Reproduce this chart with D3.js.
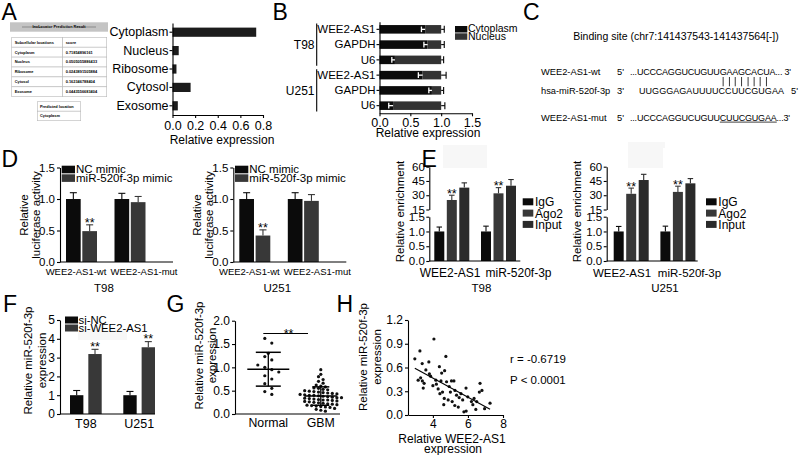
<!DOCTYPE html>
<html><head><meta charset="utf-8">
<script src="https://cdn.jsdelivr.net/npm/d3@7/dist/d3.min.js"></script>
<style>
body{margin:0;background:#fff}
svg{display:block}
text{font-family:"Liberation Sans",Arial,Helvetica,sans-serif;fill:#000}
</style></head>
<body><svg id="chart" width="800" height="455"></svg>
<script>
// ================= DATA =================
// A
const aTableHeader = "lncLocator Prediction Result";
const aTableRows = [["Subcellular locations","score"],["Cytoplasm","0.71854896161"],["Nucleus","0.0505055886433"],["Ribosome","0.0243891505884"],["Cytosol","0.162346788404"],["Exosome","0.0443556683404"]];
const aPredicted = ["Predicted location","Cytoplasm"];
const aCategories = ["Cytoplasm","Nucleus","Ribosome","Cytosol","Exosome"];
const aValues = [0.74, 0.055, 0.035, 0.16, 0.047];
const aTicks = [0, 0.2, 0.4, 0.6, 0.8];
// B
const bCells = ["T98","U251"];
const bGenes = ["WEE2-AS1","GAPDH","U6"];
const bSeries = ["Cytoplasm","Nucleus"];
const bCytoplasm = [0.74, 0.78, 0.25, 0.70, 0.85, 0.22];
const bCytoErr   = [0.06, 0.06, 0.05, 0.07, 0.05, 0.07];
const bTotal     = [1.00, 1.00, 1.00, 1.00, 1.00, 1.00];
const bTotalErr  = [0.05, 0.05, 0.04, 0.08, 0.04, 0.06];
const bTicks = [0, 0.5, 1.0, 1.5];
// C
const cTitle = "Binding site (chr7:141437543-141437564[-])";
const cLabels = ["WEE2-AS1-wt","hsa-miR-520f-3p","WEE2-AS1-mut"];
const cEnds5 = ["5'","3'","5'"];
const cSeqs = ["...UCCCAGGUCUGUUGAAGCACUA... 3'","UUGGGAGAUUUUCCUUCGUGAA","...UCCCAGGUCUGUUCUUCGUGAA...3'"];
const cMirEnd = "5'";
const cPairStart = 16, cPairLen = 8;
// D
const dGroups = ["WEE2-AS1-wt","WEE2-AS1-mut"];
const dSeries = ["NC mimic","miR-520f-3p mimic"];
const dT98NC = [1.00, 1.00], dT98NCErr = [0.10, 0.09];
const dT98Mimic = [0.49, 0.95], dT98MimicErr = [0.10, 0.09];
const dU251NC = [1.00, 1.00], dU251NCErr = [0.10, 0.10];
const dU251Mimic = [0.42, 0.97], dU251MimicErr = [0.09, 0.10];
const dSig = ["**",""];
const dTicks = [0, 0.5, 1.0, 1.5];
// E
const eGroups = ["WEE2-AS1","miR-520f-3p"];
const eSeries = ["IgG","Ago2","Input"];
const eT98IgG = [1.0, 1.0],  eT98IgGErr = [0.15, 0.18];
const eT98Ago2 = [25, 32],   eT98Ago2Err = [5, 6];
const eT98Input = [38, 40],  eT98InputErr = [5, 6.5];
const eU251IgG = [1.0, 1.0], eU251IgGErr = [0.17, 0.18];
const eU251Ago2 = [31.5, 33.5], eU251Ago2Err = [6, 6];
const eU251Input = [46, 42.5],  eU251InputErr = [6, 5];
const eTicksLow = [0, 0.5, 1.0, 1.5];
const eTicksHigh = [15, 30, 45, 60];
// F
const fGroups = ["T98","U251"];
const fSeries = ["si-NC","si-WEE2-AS1"];
const fNC = [1.0, 1.0],   fNCErr = [0.25, 0.20];
const fSi = [3.19, 3.55], fSiErr = [0.25, 0.30];
const fTicks = [0,1,2,3,4,5];
// G
const gGroups = ["Normal","GBM"];
const gNormal = [1.62,1.52,1.30,1.23,1.16,1.05,1.00,0.95,0.90,0.82,0.75,0.65,0.55,0.48,0.42];
const gGBM = [0.95,0.85,0.80,0.74,0.70,0.66,0.62,0.60,0.58,0.56,0.55,0.53,0.52,0.50,0.49,0.48,0.47,0.46,0.45,0.44,0.43,0.42,0.41,0.40,0.40,0.39,0.38,0.37,0.36,0.35,0.35,0.34,0.33,0.32,0.31,0.30,0.30,0.29,0.28,0.27,0.26,0.25,0.24,0.23,0.22,0.21,0.20,0.19,0.18,0.17,0.16,0.15,0.14,0.12,0.10,0.08,0.06];
const gTicks = [0, 0.5, 1.0, 1.5, 2.0];
// H
const hX = [2.97,3.26,3.39,3.16,3.40,3.45,3.50,3.77,3.60,3.80,3.87,4.06,4.17,4.20,4.30,4.37,4.46,4.40,4.55,4.50,4.65,4.67,4.74,4.78,4.87,4.93,5.00,5.06,5.10,5.20,5.26,5.35,5.45,5.50,5.60,5.70,5.77,5.89,5.99,6.20,6.35,6.45,6.69,6.65,6.80,6.50,6.28,6.95,7.26,4.62,5.25,4.00,3.30,5.90];
const hY = [0.71,0.81,0.65,0.44,0.43,0.34,0.40,0.67,0.57,0.52,0.49,0.96,0.44,0.39,0.33,0.61,0.43,0.27,0.29,0.53,0.21,0.56,0.74,0.42,0.19,0.36,0.29,0.43,0.17,0.43,0.31,0.25,0.10,0.22,0.27,0.19,0.04,0.34,0.23,0.17,0.21,0.07,0.40,0.29,0.31,0.17,0.13,0.08,0.15,0.13,0.12,0.37,0.47,0.05];
const hXTicks = [4, 6, 8];
const hYTicks = [0, 0.3, 0.6, 0.9, 1.2];
const hStats = ["r = -0.6719","P < 0.0001"];

// ================= HELPERS =================
const svg = d3.select("#chart");
const FONT = '"Liberation Sans", Arial, Helvetica, sans-serif';
const BLACK = "#0b0b0b", GRAY = "#383838", GRAY2 = "#2a2a2a";

function styleAxis(g, fs){
  g.attr("font-family", FONT).attr("font-size", fs);
  g.selectAll("path.domain").attr("stroke","#000").attr("stroke-width",1.1);
  g.selectAll(".tick line").attr("stroke","#000").attr("stroke-width",1.1);
  g.selectAll(".tick text").attr("fill","#000");
  return g;
}
function text(g, x, y, s, fs, anchor, weight){
  return g.append("text").attr("x",x).attr("y",y).attr("font-size",fs)
    .attr("text-anchor",anchor||"start").attr("font-weight",weight||"normal").text(s);
}
function vtext(g, x, y, s, fs){
  return g.append("text").attr("transform",`translate(${x},${y}) rotate(-90)`)
    .attr("font-size",fs).attr("text-anchor","middle").attr("dominant-baseline","central").text(s);
}
function line(g,x1,y1,x2,y2,color,w){
  return g.append("line").attr("x1",x1).attr("y1",y1).attr("x2",x2).attr("y2",y2)
    .attr("stroke",color||"#000").attr("stroke-width",w||1.1);
}
function vErr(g, x, yTop, yEnd, capW, color){
  line(g, x, yTop, x, yEnd, color);
  line(g, x-capW/2, yEnd, x+capW/2, yEnd, color);
}
function letter(x,y,s){ text(svg, x, y, s, 23); }

// faint background artifacts
[[443,145,44,23],[628,145,35,23],[78,330,49,10],[628,142,37,6]].forEach(r=>{
  svg.append("rect").attr("x",r[0]).attr("y",r[1]).attr("width",r[2]).attr("height",r[3]).attr("fill","#f7f7f7");
});

// ================= PANEL A =================
letter(1.5, 20, "A");
{
  const g = svg.append("g");
  g.append("rect").attr("x",10).attr("y",22.3).attr("width",98).attr("height",9.4).attr("fill","#c4c4c4");
  line(g, 22, 27, 42, 27, "#666", 0.6); line(g, 76, 27, 96, 27, "#666", 0.6);
  text(g, 59, 28.4, aTableHeader, 3.9, "middle", "bold").attr("fill","#333");
  const rowH = 9.9, tx = 11.7, ty = 37.3, colW = [51, 44];
  const cells = aTableRows.flatMap((r,i)=>r.map((c,j)=>({c,i,j})));
  g.selectAll("rect.cell").data(cells).join("rect").attr("class","cell")
    .attr("x",d=>tx + (d.j?colW[0]:0)).attr("y",d=>ty + d.i*rowH)
    .attr("width",d=>colW[d.j]).attr("height",rowH)
    .attr("fill","#fff").attr("stroke","#b8b8b8").attr("stroke-width",0.6);
  g.selectAll("text.cell").data(cells).join("text").attr("class","cell")
    .attr("x",d=>tx + (d.j?colW[0]:0) + 3).attr("y",d=>ty + d.i*rowH + 6.3)
    .attr("font-size",3.9).attr("font-weight","bold").attr("fill","#222").text(d=>d.c);
  g.selectAll("rect.pred").data(aPredicted).join("rect").attr("class","pred")
    .attr("x",37.3).attr("y",(d,i)=>101.7 + i*9.5).attr("width",43.4).attr("height",9.5)
    .attr("fill","#fff").attr("stroke","#b8b8b8").attr("stroke-width",0.6);
  g.selectAll("text.pred").data(aPredicted).join("text").attr("class","pred")
    .attr("x",40).attr("y",(d,i)=>101.7 + i*9.5 + 6.1)
    .attr("font-size",3.9).attr("font-weight","bold").attr("fill","#222").text(d=>d);

  const y = d3.scaleBand().domain(aCategories).range([23,115]).paddingInner(0.5).paddingOuter(0.25);
  const x = d3.scaleLinear().domain([0,0.8]).range([172.5,263]);
  g.selectAll("rect.bar").data(aCategories).join("rect").attr("class","bar")
    .attr("x",x(0)).attr("y",c=>y(c)).attr("height",y.bandwidth())
    .attr("width",(c,i)=>x(aValues[i])-x(0)).attr("fill","#1c1c1c");
  styleAxis(g.append("g").attr("transform",`translate(${x(0)},0)`)
    .call(d3.axisLeft(y).tickSize(3).tickSizeOuter(0).tickPadding(1)), 12.5);
  styleAxis(g.append("g").attr("transform",`translate(0,115)`)
    .call(d3.axisBottom(x).tickValues(aTicks).tickFormat(d3.format(".1f")).tickSize(3).tickSizeOuter(0).tickPadding(3.5)), 12.5);
  text(g, 222, 144, "Relative expression", 12, "middle");
}

// ================= PANEL B =================
letter(272.5, 20, "B");
{
  const g = svg.append("g");
  const rows = bCells.flatMap(c => bGenes.map(ge => c + "|" + ge));
  const y = d3.scaleBand().domain(rows).range([21.7,113.3]).paddingInner(0.44).paddingOuter(0.22);
  const x = d3.scaleLinear().domain([0,1.5]).range([379.5,472]);
  const bh = y.bandwidth();
  rows.forEach((r,i)=>{
    g.append("rect").attr("x",x(0)).attr("y",y(r)).attr("width",x(bCytoplasm[i])-x(0)).attr("height",bh).attr("fill",BLACK);
    g.append("rect").attr("x",x(bCytoplasm[i])).attr("y",y(r)).attr("width",x(bTotal[i])-x(bCytoplasm[i])).attr("height",bh).attr("fill","#333");
    const cy = y(r)+bh/2;
    line(g, x(bCytoplasm[i]), cy, x(bCytoplasm[i]-bCytoErr[i]), cy, "#fff", 1.3);
    line(g, x(bCytoplasm[i]-bCytoErr[i]), cy-2.8, x(bCytoplasm[i]-bCytoErr[i]), cy+2.8, "#fff", 1.3);
    line(g, x(bTotal[i]), cy, x(bTotal[i]+bTotalErr[i]), cy, "#000", 1.1);
    line(g, x(bTotal[i]+bTotalErr[i]), cy-3.5, x(bTotal[i]+bTotalErr[i]), cy+3.5, "#000", 1.1);
  });
  styleAxis(g.append("g").attr("transform",`translate(${x(0)},0)`)
    .call(d3.axisLeft(y).tickFormat(d=>d.split("|")[1]).tickSize(3).tickSizeOuter(0).tickPadding(1)), 11.5);
  styleAxis(g.append("g").attr("transform",`translate(0,113.3)`)
    .call(d3.axisBottom(x).tickValues(bTicks).tickFormat(d3.format(".1f")).tickSize(3).tickSizeOuter(0).tickPadding(1.5)), 12.5);
  text(g, 428, 137, "Relative expression", 12, "middle");
  bCells.forEach(c=>{
    const top = y(c+"|"+bGenes[0]) - 1.5, bot = y(c+"|"+bGenes[bGenes.length-1]) + bh + 1.5;
    line(g, 316.7, top, 316.7, bot, "#000", 1.1);
    text(g, 314.5, (top+bot)/2 + 4.3, c, 12, "end");
  });
  bSeries.forEach((s,i)=>{
    g.append("rect").attr("x",455).attr("y",26 + i*7.3).attr("width",12.3).attr("height",6.5).attr("fill", i?"#333":BLACK);
    text(g, 468, 32.3 + i*7.6, s, 10.5);
  });
}

// ================= PANEL C =================
letter(523, 20, "C");
{
  const g = svg.append("g");
  text(g, 676, 40, cTitle, 10.5, "middle");
  const baselines = [75, 94.3, 120.5];
  const seqX = [630, 639, 630];
  const seqLen = [161, 145, 160];
  cLabels.forEach((l,i)=>{
    text(g, 541, baselines[i], l, 9.3);
    text(g, 617, baselines[i], cEnds5[i], 9.3);
  });
  const seqNodes = cSeqs.map((s,i)=> text(g, seqX[i], baselines[i], s, 9)
    .attr("textLength", seqLen[i]).attr("lengthAdjust","spacing"));
  text(g, 791, baselines[1], cMirEnd, 9.3);
  const wt = seqNodes[0].node();
  for (let k=0;k<cPairLen;k++){
    const e = wt.getExtentOfChar(cPairStart+k);
    const cx = e.x + e.width/2;
    line(g, cx, 77, cx, 86.3, "#222", 0.9);
  }
  const mut = seqNodes[2].node();
  const e0 = mut.getExtentOfChar(cPairStart), e1 = mut.getExtentOfChar(cPairStart+cPairLen);
  line(g, e0.x, 122.2, e1.x + e1.width, 122.2, "#666", 1.2);
}

// ================= PANEL D =================
letter(1.5, 166.8, "D");
function dPanel(axisX, cell, nc, ncErr, mim, mimErr){
  const g = svg.append("g");
  const y = d3.scaleLinear().domain([0,1.5]).range([262,167.5]);
  const x0 = d3.scaleBand().domain(dGroups).range([axisX+6, axisX+103]);
  const x1 = d3.scaleBand().domain(dSeries).range([0,31]).paddingInner(0.1);
  const lab = d3.scalePoint().domain(dGroups).range([axisX+16, axisX+84]);
  const colors = [BLACK, GRAY];
  const data = dGroups.flatMap((gr,i)=>[
    {gr, s:dSeries[0], v:nc[i], e:ncErr[i], sig:""},
    {gr, s:dSeries[1], v:mim[i], e:mimErr[i], sig:dSig[i]}]);
  g.selectAll("rect.bar").data(data).join("rect")
    .attr("x",d=>x0(d.gr)+x1(d.s)).attr("y",d=>y(d.v)).attr("width",x1.bandwidth())
    .attr("height",d=>y(0)-y(d.v)).attr("fill",d=>colors[dSeries.indexOf(d.s)]);
  data.forEach(d=>{
    const cx = x0(d.gr)+x1(d.s)+x1.bandwidth()/2;
    vErr(g, cx, y(d.v), y(d.v+d.e), 7, colors[dSeries.indexOf(d.s)]);
    if (d.sig) text(g, cx, y(d.v+d.e)+2, d.sig, 12.5, "middle");
  });
  styleAxis(g.append("g").attr("transform",`translate(${axisX},0)`)
    .call(d3.axisLeft(y).tickValues(dTicks).tickFormat(d3.format(".1f")).tickSize(3).tickSizeOuter(0).tickPadding(2)), 11.5);
  line(g, axisX, y(0), axisX+113, y(0), "#000", 1.1);
  dGroups.forEach(gr=> text(g, lab(gr), 275, gr, 9.5, "middle"));
  text(g, axisX+44, 291.5, cell, 11.5, "middle");
  vtext(g, axisX-36, 215, "Relative", 11.5);
  vtext(g, axisX-24.5, 215, "luciferase activity", 11.5);
  dSeries.forEach((s,i)=>{
    g.append("rect").attr("x",axisX+1.7).attr("y",165.7+i*8.6).attr("width",13.3).attr("height",7.6).attr("fill",colors[i]);
    text(g, axisX+16, 173.3+i*8.4, s, 11.5);
  });
}
dPanel(60, "T98", dT98NC, dT98NCErr, dT98Mimic, dT98MimicErr);
dPanel(233.3, "U251", dU251NC, dU251NCErr, dU251Mimic, dU251MimicErr);

// ================= PANEL E =================
letter(421.5, 166.8, "E");
function ePanel(axisX, off, legX, labRange, labFs, cellX, cell, vals, errs){
  const g = svg.append("g");
  const y = d3.scaleLinear().domain([0,1.5,15,60]).range([261,216.7,209.5,166.7]);
  const yLow = d3.scaleLinear().domain([0,1.5]).range([261,216.7]);
  const yHigh = d3.scaleLinear().domain([15,60]).range([209.5,166.7]);
  const x0 = d3.scaleBand().domain(eGroups).range([axisX+off, axisX+off+93.4]);
  const x1 = d3.scaleBand().domain(eSeries).range([0,35]).paddingInner(0.2);
  const lab = d3.scalePoint().domain(eGroups).range(labRange);
  const colors = [BLACK, GRAY, GRAY2];
  const data = eGroups.flatMap((gr,i)=> eSeries.map((s,j)=>({gr, s, j, v:vals[j][i], e:errs[j][i]})));
  g.selectAll("rect.bar").data(data).join("rect")
    .attr("x",d=>x0(d.gr)+x1(d.s)).attr("y",d=>y(d.v)).attr("width",x1.bandwidth())
    .attr("height",d=>y(0)-y(d.v)).attr("fill",d=>colors[d.j]);
  data.forEach(d=>{
    const cx = x0(d.gr)+x1(d.s)+x1.bandwidth()/2;
    vErr(g, cx, y(d.v), y(d.v+d.e), 5.5, colors[d.j]);
    if (d.s === "Ago2") text(g, cx, y(d.v+d.e)+2.5, "**", 12.5, "middle");
  });
  styleAxis(g.append("g").attr("transform",`translate(${axisX},0)`)
    .call(d3.axisLeft(yLow).tickValues(eTicksLow).tickFormat(d3.format(".1f")).tickSize(3).tickSizeOuter(0).tickPadding(1.5)), 11.5);
  styleAxis(g.append("g").attr("transform",`translate(${axisX},0)`)
    .call(d3.axisLeft(yHigh).tickValues(eTicksHigh).tickFormat(d3.format("d")).tickSize(3).tickSizeOuter(0).tickPadding(1.5)), 11.5);
  line(g, axisX, y(0), axisX+91, y(0), "#000", 1.1);
  eGroups.forEach(gr=> text(g, lab(gr), 276.5, gr, labFs, "middle"));
  text(g, cellX, 291.5, cell, 11.5, "middle");
  vtext(g, axisX-29.5, 211.5, "Relative enrichment", 11.5);
  eSeries.forEach((s,i)=>{
    g.append("rect").attr("x",legX).attr("y",198.3+i*11.3).attr("width",10.6).attr("height",7).attr("fill",colors[i]);
    text(g, legX+12.3, 206.3+i*11.2, s, 12);
  });
}
ePanel(429.3, 5, 522.7, [450, 518.5], 12, 481.5, "T98",
  [eT98IgG, eT98Ago2, eT98Input], [eT98IgGErr, eT98Ago2Err, eT98InputErr]);
ePanel(606.7, 7, 706, [622, 689.5], 11.5, 665, "U251",
  [eU251IgG, eU251Ago2, eU251Input], [eU251IgGErr, eU251Ago2Err, eU251InputErr]);

// ================= PANEL F =================
letter(3, 311.8, "F");
{
  const g = svg.append("g");
  const axisX = 60;
  const y = d3.scaleLinear().domain([0,5]).range([414,320]);
  const x0 = d3.scaleBand().domain(fGroups).range([axisX+10, axisX+10+106.6]);
  const x1 = d3.scaleBand().domain(fSeries).range([0,31.7]).paddingInner(0.27);
  const colors = [BLACK, GRAY];
  const data = fGroups.flatMap((gr,i)=>[
    {gr, s:fSeries[0], j:0, v:fNC[i], e:fNCErr[i]},
    {gr, s:fSeries[1], j:1, v:fSi[i], e:fSiErr[i]}]);
  g.selectAll("rect.bar").data(data).join("rect")
    .attr("x",d=>x0(d.gr)+x1(d.s)).attr("y",d=>y(d.v)).attr("width",x1.bandwidth())
    .attr("height",d=>y(0)-y(d.v)).attr("fill",d=>colors[d.j]);
  data.forEach(d=>{
    const cx = x0(d.gr)+x1(d.s)+x1.bandwidth()/2;
    vErr(g, cx, y(d.v), y(d.v+d.e), 7, colors[d.j]);
    if (d.j===1) text(g, cx, y(d.v+d.e)+1.5, "**", 12.5, "middle");
  });
  styleAxis(g.append("g").attr("transform",`translate(${axisX},0)`)
    .call(d3.axisLeft(y).tickValues(fTicks).tickFormat(d3.format("d")).tickSize(3).tickSizeOuter(0).tickPadding(2)), 12);
  line(g, axisX, y(0), axisX+95, y(0), "#000", 1.1);
  fGroups.forEach(gr=> text(g, x0(gr)+x1.range()[1]/2, 428.3, gr, 12.5, "middle"));
  vtext(g, 28, 360.5, "Relative miR-520f-3p", 11.5);
  vtext(g, 41.5, 360.5, "expression", 11.5);
  fSeries.forEach((s,i)=>{
    g.append("rect").attr("x",65).attr("y",316.5+i*8).attr("width",13).attr("height",7).attr("fill",colors[i]);
    text(g, 78.5, 323.5+i*8.4, s, 11.3);
  });
}

// ================= PANEL G =================
letter(166.5, 311.8, "G");
{
  const g = svg.append("g");
  const axisX = 235;
  const y = d3.scaleLinear().domain([0,2]).range([414,320.7]);
  const x = d3.scalePoint().domain(gGroups).range([268.3, 320.8]);
  function swarm(vals, cx, bin, sp){
    const groups = d3.groups(vals, v => Math.round(y(v)/bin));
    const out = [];
    groups.forEach(([k,arr])=>arr.forEach((v,j)=> out.push({x: cx + (j-(arr.length-1)/2)*sp, y: y(v)})));
    return out;
  }
  const sets = [gNormal, gGBM];
  const params = [[9,7],[3.6,4.6]];
  sets.forEach((vals,i)=>{
    const pts = swarm(vals, x(gGroups[i]), params[i][0], params[i][1]);
    g.selectAll(null).data(pts).join("circle").attr("cx",d=>d.x).attr("cy",d=>d.y).attr("r",1.6).attr("fill","#111");
    const m = d3.mean(vals), sd = d3.deviation(vals);
    const cx = x(gGroups[i]);
    const mw = i ? 16 : 21, cw = i ? 8.5 : 12.5;
    line(g, cx-mw, y(m), cx+mw, y(m), "#000", 1.5);
    line(g, cx, y(m+sd), cx, y(m-sd), "#000", 1.3);
    line(g, cx-cw, y(m+sd), cx+cw, y(m+sd), "#000", 1.5);
    line(g, cx-cw, y(m-sd), cx+cw, y(m-sd), "#000", 1.5);
  });
  styleAxis(g.append("g").attr("transform",`translate(${axisX},0)`)
    .call(d3.axisLeft(y).tickValues(gTicks).tickFormat(d3.format(".1f")).tickSize(3).tickSizeOuter(0).tickPadding(2)), 12);
  line(g, axisX, y(0), 340, y(0), "#000", 1.1);
  gGroups.forEach(gr=> text(g, x(gr), 426.7, gr, 12.3, "middle"));
  line(g, 263.3, 333.5, 308, 333.5, "#000", 1.1);
  text(g, 288.5, 337.5, "**", 12.5, "middle");
  vtext(g, 198.7, 355.5, "Relative miR-520f-3p", 11.5);
  vtext(g, 211.7, 355.5, "expression", 11.5);
}

// ================= PANEL H =================
letter(336.5, 311.8, "H");
{
  const g = svg.append("g");
  const x = d3.scaleLinear().domain([2.58,8]).range([408,503]);
  const y = d3.scaleLinear().domain([0,1.2]).range([415,320]);
  const pts = hX.map((v,i)=>({x:v, y:hY[i]}));
  g.selectAll("circle").data(pts).join("circle").attr("cx",d=>x(d.x)).attr("cy",d=>y(d.y)).attr("r",1.6).attr("fill","#111");
  const mx = d3.mean(hX), my = d3.mean(hY);
  const slope = d3.sum(pts, p=>(p.x-mx)*(p.y-my)) / d3.sum(pts, p=>(p.x-mx)**2);
  const ic = my - slope*mx;
  const [xmin, xmax] = d3.extent(hX);
  line(g, x(xmin), y(ic+slope*xmin), x(xmax), y(ic+slope*xmax), "#000", 1.1);
  styleAxis(g.append("g").attr("transform",`translate(408,0)`)
    .call(d3.axisLeft(y).tickValues(hYTicks).tickFormat(d3.format(".1f")).tickSize(3).tickSizeOuter(0).tickPadding(2)), 12);
  styleAxis(g.append("g").attr("transform",`translate(0,415)`)
    .call(d3.axisBottom(x).tickValues(hXTicks).tickFormat(d3.format("d")).tickSize(3).tickSizeOuter(0).tickPadding(1.5)), 12);
  text(g, 452, 443, "Relative WEE2-AS1", 12, "middle");
  text(g, 453, 453, "expression", 12, "middle");
  vtext(g, 363, 357, "Relative miR-520f-3p", 11.5);
  vtext(g, 376.7, 357, "expression", 11.5);
  hStats.forEach((s,i)=> text(g, 510, 362.5 + i*21, s, 11.5));
}
</script>
</body></html>
